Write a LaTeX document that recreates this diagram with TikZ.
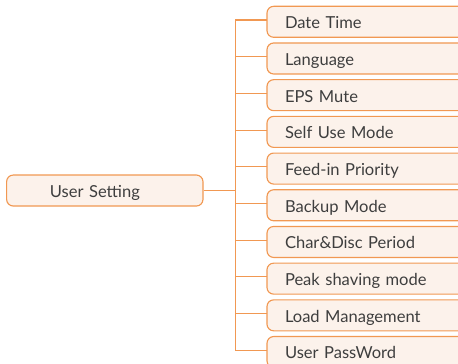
\documentclass[tikz,border=0pt]{standalone}
\usepackage{fontspec}
\setmainfont{Lato}
\usepackage{xcolor}
\usetikzlibrary{positioning}
\definecolor{menuorange}{RGB}{241,152,82}
\definecolor{menufill}{RGB}{252,242,235}
\definecolor{menutext}{RGB}{62,62,62}

\begin{document}
\begin{tikzpicture}[font=\fontsize{12.4}{15}\selectfont, node distance=4.27pt, line width=0.85pt]
        \useasboundingbox (0,0) rectangle (343.5pt,273pt);
        \clip (0,0) rectangle (343.5pt,273pt);

        \node[rectangle, draw=menuorange, fill=menufill, text=menutext, text width=82.3pt, inner xsep=32.5pt, inner ysep=0pt, minimum height=23.25pt, text height=11.15pt, text depth=0.85pt, align=left, rounded corners=5pt] (user) at (78.6pt,130.1pt) {User Setting};

        \node[rectangle, draw=menuorange, fill=menufill, text=menutext, text width=135pt, inner xsep=13.5pt, inner ysep=0pt, minimum height=23.25pt, text height=11.15pt, text depth=0.85pt, align=left, rounded corners=5pt, outer sep=0pt, anchor=west] (date) at (200.25pt,256.65pt) {Date Time};
        \node[rectangle, draw=menuorange, fill=menufill, text=menutext, text width=135pt, inner xsep=13.5pt, inner ysep=0pt, minimum height=23.25pt, text height=11.15pt, text depth=0.85pt, align=left, rounded corners=5pt, outer sep=0pt, below=of date] (lang) {Language};
        \node[rectangle, draw=menuorange, fill=menufill, text=menutext, text width=135pt, inner xsep=13.5pt, inner ysep=0pt, minimum height=23.25pt, text height=11.15pt, text depth=0.85pt, align=left, rounded corners=5pt, outer sep=0pt, below=of lang] (eps) {EPS Mute};
        \node[rectangle, draw=menuorange, fill=menufill, text=menutext, text width=135pt, inner xsep=13.5pt, inner ysep=0pt, minimum height=23.25pt, text height=11.15pt, text depth=0.85pt, align=left, rounded corners=5pt, outer sep=0pt, below=of eps] (self) {Self Use Mode};
        \node[rectangle, draw=menuorange, fill=menufill, text=menutext, text width=135pt, inner xsep=13.5pt, inner ysep=0pt, minimum height=23.25pt, text height=11.15pt, text depth=0.85pt, align=left, rounded corners=5pt, outer sep=0pt, below=of self] (feed) {Feed-in Priority};
        \node[rectangle, draw=menuorange, fill=menufill, text=menutext, text width=135pt, inner xsep=13.5pt, inner ysep=0pt, minimum height=23.25pt, text height=11.15pt, text depth=0.85pt, align=left, rounded corners=5pt, outer sep=0pt, below=of feed] (backup) {Backup Mode};
        \node[rectangle, draw=menuorange, fill=menufill, text=menutext, text width=135pt, inner xsep=13.5pt, inner ysep=0pt, minimum height=23.25pt, text height=11.15pt, text depth=0.85pt, align=left, rounded corners=5pt, outer sep=0pt, below=of backup] (period) {Char\&Disc Period};
        \node[rectangle, draw=menuorange, fill=menufill, text=menutext, text width=135pt, inner xsep=13.5pt, inner ysep=0pt, minimum height=23.25pt, text height=11.15pt, text depth=0.85pt, align=left, rounded corners=5pt, outer sep=0pt, below=of period] (peak) {Peak shaving mode};
        \node[rectangle, draw=menuorange, fill=menufill, text=menutext, text width=135pt, inner xsep=13.5pt, inner ysep=0pt, minimum height=23.25pt, text height=11.15pt, text depth=0.85pt, align=left, rounded corners=5pt, outer sep=0pt, below=of peak] (load) {Load Management};
        \node[rectangle, draw=menuorange, fill=menufill, text=menutext, text width=135pt, inner xsep=13.5pt, inner ysep=0pt, minimum height=23.25pt, text height=11.15pt, text depth=0.85pt, align=left, rounded corners=5pt, outer sep=0pt, below=of load] (pass) {User PassWord};

        % Tree lines
        \coordinate (trunk) at (176.5pt,0);
        \draw[menuorange] (user.east) -- (trunk |- user.east);
        \draw[menuorange] ([yshift=1.35pt]trunk |- date.west) -- ([yshift=1.35pt]trunk |- pass.west);
        \draw[menuorange] ([yshift=1.35pt]trunk |- date.west) -- ([yshift=1.35pt]date.west);
        \draw[menuorange] ([yshift=1.35pt]trunk |- lang.west) -- ([yshift=1.35pt]lang.west);
        \draw[menuorange] ([yshift=1.35pt]trunk |- eps.west) -- ([yshift=1.35pt]eps.west);
        \draw[menuorange] ([yshift=1.35pt]trunk |- self.west) -- ([yshift=1.35pt]self.west);
        \draw[menuorange] ([yshift=1.35pt]trunk |- feed.west) -- ([yshift=1.35pt]feed.west);
        \draw[menuorange] ([yshift=1.35pt]trunk |- backup.west) -- ([yshift=1.35pt]backup.west);
        \draw[menuorange] ([yshift=1.35pt]trunk |- period.west) -- ([yshift=1.35pt]period.west);
        \draw[menuorange] ([yshift=1.35pt]trunk |- peak.west) -- ([yshift=1.35pt]peak.west);
        \draw[menuorange] ([yshift=1.35pt]trunk |- load.west) -- ([yshift=1.35pt]load.west);
        \draw[menuorange] ([yshift=1.35pt]trunk |- pass.west) -- ([yshift=1.35pt]pass.west);
      \end{tikzpicture}
\end{document}
